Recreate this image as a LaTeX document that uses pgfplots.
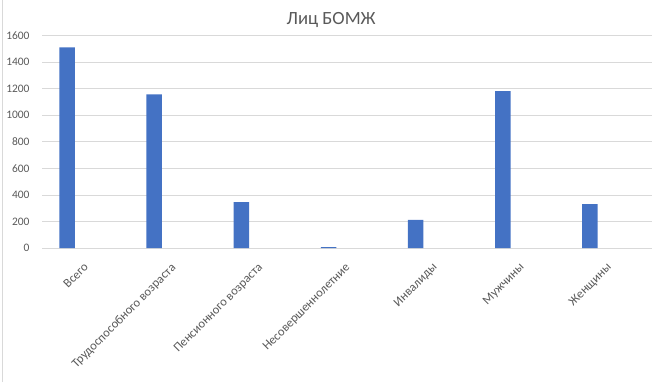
\documentclass[border=0pt]{standalone}
\usepackage{fontspec}
\setmainfont{Carlito}
\usepackage{pgfplots}
\pgfplotsset{compat=1.18}
\definecolor{barblue}{HTML}{4472C4}
\definecolor{txt}{HTML}{595959}
\definecolor{gridc}{HTML}{D9D9D9}
\begin{document}
\begin{tikzpicture}[x=1bp,y=1bp]
\useasboundingbox (0,0) rectangle (652,382);
\draw[gridc, line width=0.75bp] (2.5,0) -- (2.5,382);
\begin{axis}[
  at={(42bp,134bp)}, anchor=south west,
  scale only axis, width=610bp, height=212.5bp,
  xmin=-0.5, xmax=6.5, ymin=0, ymax=1600,
  ytick={0,200,...,1600},
  ymajorgrids, grid style={gridc, line width=0.75bp},
  axis line style={draw=none},
  major tick length=0,
  xtick={0,...,6},
  xticklabels={Всего, Трудоспособного возраста, Пенсионного возраста, Несовершеннолетние, Инвалиды, Мужчины, Женщины},
  tick label style={font=\fontsize{11.5}{13}\selectfont, text=txt},
  /pgf/number format/assume math mode=true,
  /pgf/number format/1000 sep={},
  xticklabel style={font=\fontsize{12.6}{14}\selectfont, xshift=-2.4bp, yshift=-9.4bp, rotate=45, anchor=north east},
  yticklabel style={xshift=-9bp},
  title={Лиц БОМЖ},
  title style={at={(0.474,1)}, anchor=base, yshift=4.8bp, font=\fontsize{18.7}{22}\selectfont, text=txt},
]
\addplot[ybar, bar width=15.5bp, bar shift=-18.5bp, fill=barblue, draw=none]
  coordinates {(0,1511) (1,1157) (2,346) (3,7) (4,211) (5,1182) (6,331)};
\end{axis}
\end{tikzpicture}
\end{document}
